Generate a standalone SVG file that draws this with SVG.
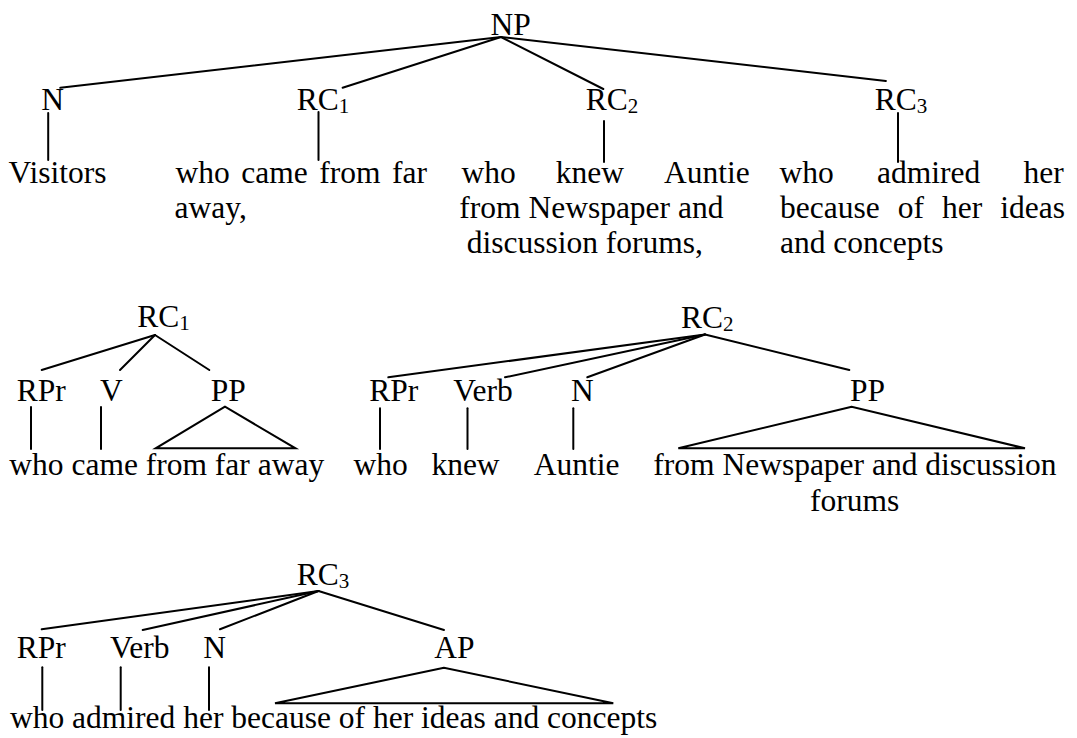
<svg xmlns="http://www.w3.org/2000/svg" width="1077" height="738" viewBox="0 0 1077 738">
<style>
text{font-size:31.5px;fill:#000}
.sub{font-size:21px}
.e{text-anchor:end}
.c line,.c polygon{stroke:#000;stroke-width:2;fill:none;stroke-linecap:round}
</style>
<rect width="1077" height="738" fill="#fff"/>
<g id="connectors" class="c">
<line x1="501" y1="37" x2="60.3" y2="87.8"/>
<line x1="501" y1="37" x2="342.6" y2="87.8"/>
<line x1="501" y1="37" x2="603.3" y2="89"/>
<line x1="501" y1="37" x2="885.9" y2="81"/>
<line x1="48.2" y1="113" x2="48.2" y2="160"/>
<line x1="318.5" y1="112" x2="318.5" y2="160"/>
<line x1="604" y1="121" x2="604" y2="162"/>
<line x1="898" y1="113" x2="898" y2="162"/>
<line x1="155" y1="335" x2="41.7" y2="370"/>
<line x1="155" y1="335" x2="120" y2="370"/>
<line x1="155" y1="335" x2="209.3" y2="370"/>
<line x1="31" y1="407" x2="31" y2="449"/>
<line x1="101" y1="407" x2="101" y2="449"/>
<polygon points="225,406.7 155.7,448.3 295.5,448.3"/>
<line x1="705" y1="334.5" x2="388.3" y2="377.3"/>
<line x1="705" y1="334.5" x2="505" y2="377.3"/>
<line x1="705" y1="334.5" x2="587.3" y2="377.3"/>
<line x1="705" y1="334.5" x2="849.3" y2="370"/>
<line x1="380" y1="408.3" x2="380" y2="449"/>
<line x1="467.5" y1="408.3" x2="467.5" y2="449"/>
<line x1="573.3" y1="408.3" x2="573.3" y2="449"/>
<polygon points="851.7,406.7 678.3,448.3 1025,448.3"/>
<line x1="318.5" y1="591" x2="41.7" y2="629.3"/>
<line x1="318.5" y1="591" x2="142.7" y2="630"/>
<line x1="318.5" y1="591" x2="220" y2="629.3"/>
<line x1="318.5" y1="591" x2="444" y2="630"/>
<line x1="42.3" y1="667.3" x2="42.3" y2="710"/>
<line x1="120.7" y1="667.3" x2="120.7" y2="710"/>
<line x1="209" y1="667.3" x2="209" y2="710"/>
<polygon points="444,667.7 275,703.3 613.3,703.3"/>
</g>
<g font-family="'Liberation Serif', 'Times New Roman', Times, 'DejaVu Serif', serif">
<g id="t1-NP"><text x="490.6" y="34.5">NP</text></g>
<g id="t1-N"><text x="41.3" y="110">N</text></g>
<g id="t1-RC1"><text x="296.8" y="110">RC<tspan class="sub" dy="3">1</tspan></text></g>
<g id="t1-RC2"><text x="585.8" y="110">RC<tspan class="sub" dy="3">2</tspan></text></g>
<g id="t1-RC3"><text x="874.7" y="110">RC<tspan class="sub" dy="3">3</tspan></text></g>
<g id="t1-leaf-N"><text x="8.6" y="183">Visitors</text></g>
<g id="t1-leaf-RC1">
<text x="175.6" y="183">who</text><text x="241.3" y="183">came</text><text x="319.3" y="183">from</text><text class="e" x="427" y="183">far</text>
<text x="174.5" y="218">away,</text>
</g>
<g id="t1-leaf-RC2">
<text x="461.4" y="183">who</text><text x="555.8" y="183">knew</text><text class="e" x="749.8" y="183">Auntie</text>
<text x="459.3" y="218">from Newspaper and</text>
<text x="466.7" y="253">discussion forums,</text>
</g>
<g id="t1-leaf-RC3">
<text x="779.5" y="183">who</text><text x="877" y="183">admired</text><text class="e" x="1063.8" y="183">her</text>
<text x="780" y="218">because</text><text x="897.8" y="218">of</text><text x="942.1" y="218">her</text><text class="e" x="1065" y="218">ideas</text>
<text x="780" y="253">and concepts</text>
</g>
<g id="t2-RC1"><text x="137.3" y="327.3">RC<tspan class="sub" dy="3">1</tspan></text></g>
<g id="t2-RPr"><text x="16.7" y="400.7">RPr</text></g>
<g id="t2-V"><text x="100" y="400.7">V</text></g>
<g id="t2-PP"><text x="210.7" y="400.7">PP</text></g>
<g id="t2-leaves"><text x="9.3" y="475">who came from far away</text></g>
<g id="t3-RC2"><text x="681" y="328.3">RC<tspan class="sub" dy="3">2</tspan></text></g>
<g id="t3-RPr"><text x="369.3" y="400.7">RPr</text></g>
<g id="t3-Verb"><text x="453.3" y="400.7">Verb</text></g>
<g id="t3-N"><text x="571" y="400.7">N</text></g>
<g id="t3-PP"><text x="850" y="400.7">PP</text></g>
<g id="t3-leaves">
<text x="353.5" y="475">who</text><text x="431.4" y="475">knew</text><text x="533.7" y="475">Auntie</text>
<text x="653.3" y="475">from Newspaper and discussion</text>
<text x="810" y="511">forums</text>
</g>
<g id="t4-RC3"><text x="296.7" y="585">RC<tspan class="sub" dy="3">3</tspan></text></g>
<g id="t4-RPr"><text x="16.7" y="658.3">RPr</text></g>
<g id="t4-Verb"><text x="110" y="658.3">Verb</text></g>
<g id="t4-N"><text x="203.3" y="658.3">N</text></g>
<g id="t4-AP"><text x="434.3" y="658.3">AP</text></g>
<g id="t4-leaves"><text x="10" y="728.3">who admired her because of her ideas and concepts</text></g>
</g>
</svg>
